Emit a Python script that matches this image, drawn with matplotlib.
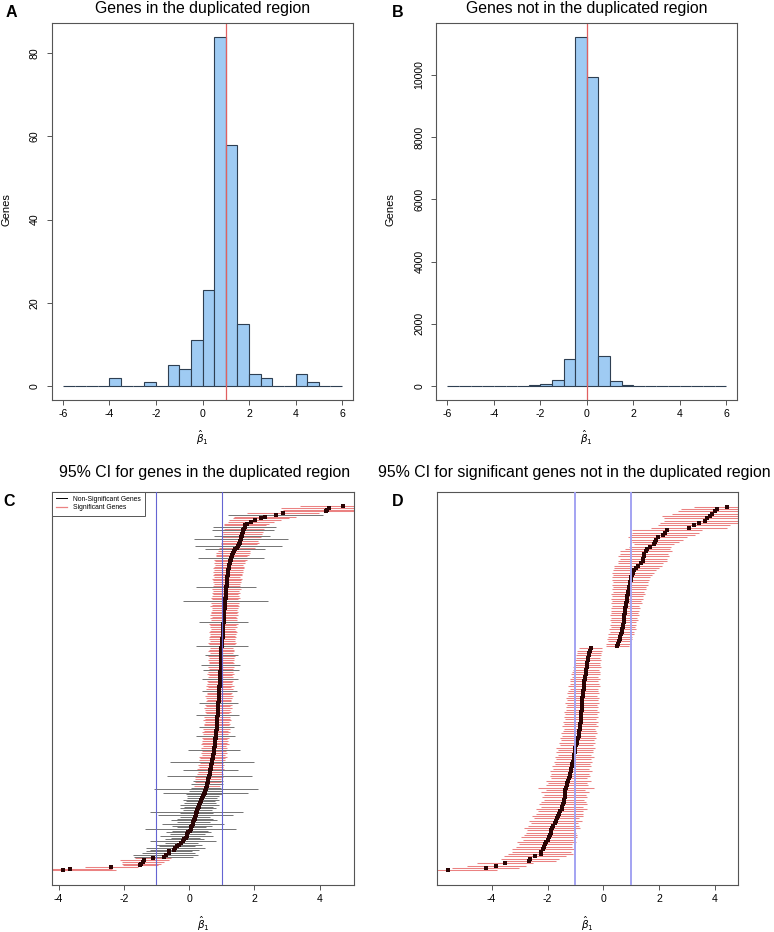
import numpy as np
import matplotlib
matplotlib.use("Agg")
import matplotlib.pyplot as plt
from matplotlib.lines import Line2D

plt.rcParams['font.family'] = ['Liberation Sans', 'DejaVu Sans']
plt.rcParams['axes.unicode_minus'] = False

# ---- histogram data (bins of width 0.5 from -6 to 6) ----
bin_edges = np.arange(-6, 6.01, 0.5)
counts_dup = [0, 0, 0, 0, 2, 0, 0, 1, 0, 5, 4, 11,
              23, 84, 58, 15, 3, 2, 0, 0, 3, 1, 0, 0]
counts_nondup = [1, 1, 2, 3, 4, 6, 10, 20, 55, 180, 865, 11230,
                 9935, 975, 170, 45, 15, 8, 5, 4, 3, 2, 1, 1]

# ---- panel C: genes in the duplicated region (sorted estimates) ----
est_c = [
    -3.85, -3.66, -2.38, -1.49, -1.47, -1.42, -1.37, -1.12, -0.78, -0.72,
    -0.63, -0.61, -0.46, -0.42, -0.36, -0.30, -0.24, -0.19, -0.15, -0.11,
    -0.08, -0.05, -0.02,
    0.02, 0.05, 0.07, 0.09, 0.11, 0.13, 0.15, 0.17, 0.18, 0.20,
    0.22, 0.23, 0.25, 0.27, 0.29, 0.31, 0.33, 0.35, 0.37, 0.40,
    0.43, 0.46, 0.49,
    0.50, 0.51, 0.52, 0.54, 0.55, 0.57, 0.58, 0.59, 0.61, 0.62,
    0.63, 0.64, 0.65, 0.66, 0.67, 0.68, 0.69, 0.70, 0.71, 0.72,
    0.73, 0.74, 0.75, 0.76, 0.77, 0.77, 0.78, 0.79, 0.79, 0.80,
    0.80, 0.81, 0.82, 0.82, 0.83, 0.83, 0.84, 0.84, 0.85, 0.85,
    0.85, 0.86, 0.86, 0.86, 0.87, 0.87, 0.88, 0.88, 0.89, 0.89,
    0.90, 0.90, 0.91, 0.91, 0.91, 0.92, 0.92, 0.92, 0.93, 0.93,
    0.93, 0.94, 0.94, 0.94, 0.95, 0.95, 0.95, 0.96, 0.96, 0.96,
    0.97, 0.97, 0.97, 0.97, 0.98, 0.98, 0.98, 0.98, 0.99, 0.99,
    0.99, 0.99, 0.99, 0.99,
    1.00, 1.01, 1.01, 1.02, 1.02, 1.03, 1.03, 1.03, 1.04, 1.04,
    1.04, 1.05, 1.05, 1.05, 1.06, 1.06, 1.06, 1.07, 1.07, 1.08,
    1.08, 1.08, 1.09, 1.09, 1.10, 1.10, 1.11, 1.11, 1.12, 1.12,
    1.12, 1.13, 1.13, 1.14, 1.14, 1.15, 1.15, 1.16, 1.16, 1.17,
    1.17, 1.18, 1.19, 1.19, 1.20, 1.21, 1.21, 1.22, 1.24, 1.26,
    1.27, 1.28, 1.30, 1.32, 1.34, 1.38, 1.42, 1.46,
    1.51, 1.53, 1.55, 1.57, 1.59, 1.60, 1.62, 1.63, 1.64, 1.66,
    1.68, 1.70, 1.72, 1.76, 1.90,
    2.03, 2.20, 2.34, 2.65, 2.87, 4.18, 4.22, 4.28, 4.71,
]
hw_c = [
    1.60, 1.30, 0.80, 0.55, 0.60, 0.65, 0.75, 0.55, 0.90, 1.00,
    0.80, 0.70, 0.75, 0.90, 0.55, 0.70, 0.50, 1.00, 0.60, 0.45,
    0.80, 0.55, 0.70,
    0.55, 1.40, 0.45, 0.60, 0.95, 0.50, 0.70, 0.55, 0.45, 1.15,
    0.50, 1.43, 0.45, 0.55, 0.45, 0.60, 0.50, 0.45, 0.55, 0.45,
    0.50, 0.55, 1.30,
    0.50, 1.60, 0.45, 0.40, 0.50, 0.40, 0.45, 0.40, 0.42, 1.30,
    0.40, 0.38, 0.85, 0.42, 0.38, 0.40, 0.36, 1.30, 0.40, 0.38,
    0.42, 0.36, 0.40, 0.38, 0.80, 0.40, 0.36, 0.42, 0.38, 0.40,
    0.36, 0.40, 0.60, 0.38, 0.42, 0.36, 0.40, 0.55, 0.38, 0.40,
    0.36, 0.42, 0.38, 0.40, 0.65, 0.36, 0.40, 0.38, 0.42, 0.36,
    0.40, 0.60, 0.38, 0.36, 0.40, 0.42, 0.36, 0.38, 0.55, 0.40,
    0.36, 0.42, 0.38, 0.36, 0.40, 0.55, 0.38, 0.36, 0.40, 0.38,
    0.55, 0.36, 0.40, 0.60, 0.38, 0.36, 0.40, 0.38, 0.42, 0.50,
    0.36, 0.40, 0.38, 0.36,
    0.80, 0.40, 0.42, 0.38, 0.40, 0.42, 0.38, 0.40, 0.42, 0.40,
    0.38, 0.42, 0.40, 0.44, 0.75, 0.40, 0.42, 0.38, 0.44, 0.40,
    0.42, 0.38, 0.40, 0.44, 0.40, 0.42, 1.30, 0.40, 0.44, 0.42,
    0.38, 0.42, 0.40, 0.44, 0.92, 0.42, 0.40, 0.44, 0.42, 0.46,
    0.40, 0.44, 0.42, 0.46, 0.44, 0.48, 0.46, 0.44, 0.48, 0.46,
    0.50, 1.00, 0.48, 0.50, 0.52, 0.50, 0.92, 0.55,
    1.33, 0.55, 0.58, 0.55, 1.43, 0.60, 0.85, 0.60, 0.62, 0.95,
    0.62, 0.97, 0.65, 0.68, 0.70,
    0.80, 0.85, 0.95, 1.45, 1.10, 1.40, 1.35, 1.45, 1.30,
]
sig_c = [
    1, 1, 1, 1, 1, 1, 1, 1, 0, 0, 0, 0, 0, 0, 0, 0, 0, 0, 0, 0, 0, 0, 0,
    0, 0, 0, 0, 0, 0, 0, 0, 0, 0, 0, 0, 0, 0, 0, 0, 0, 0, 0, 0, 0, 0, 0,
    0, 0, 0, 1, 0, 1, 0, 1, 1, 0,
    1, 1, 0, 1, 1, 1, 1, 0, 1, 1,
    1, 1, 1, 1, 0, 1, 1, 1, 1, 1,
    1, 1, 0, 1, 1, 1, 1, 0, 1, 1,
    1, 1, 1, 1, 0, 1, 1, 1, 1, 1,
    1, 0, 1, 1, 1, 1, 1, 1, 0, 1,
    1, 1, 1, 1, 1, 0, 1, 1, 1, 1,
    0, 1, 1, 0, 1, 1, 1, 1, 1, 0,
    1, 1, 1, 1,
    0, 1, 1, 1, 1, 1, 1, 1, 1, 1,
    1, 1, 1, 1, 0, 1, 1, 1, 1, 1,
    1, 1, 1, 1, 1, 1, 0, 1, 1, 1,
    1, 1, 1, 1, 0, 1, 1, 1, 1, 1,
    1, 1, 1, 1, 1, 1, 1, 1, 1, 1,
    1, 0, 1, 1, 1, 1, 0, 1,
    0, 1, 1, 1, 0, 1, 0, 1, 1, 0, 1, 0, 1, 1, 1,
    1, 1, 1, 0, 1, 1, 1, 1, 1,
]

# ---- panel D: significant genes not in the duplicated region ----
est_d = [
    -5.57, -4.21, -3.83, -3.53, -2.65, -2.63, -2.45, -2.25, -2.22, -2.17,
    -2.13, -2.08, -2.04, -1.98, -1.94, -1.91, -1.89, -1.87, -1.85, -1.79,
    -1.75, -1.71, -1.68, -1.64, -1.58, -1.54, -1.50, -1.47, -1.45, -1.42,
    -1.40, -1.39, -1.38, -1.37, -1.36, -1.34, -1.31, -1.29, -1.26, -1.23,
    -1.21, -1.19, -1.17, -1.15, -1.13, -1.11, -1.09, -1.07, -1.05, -1.04,
    -1.03, -1.01, -1.00, -0.97, -0.95, -0.93, -0.91, -0.89, -0.87, -0.86,
    -0.85, -0.84, -0.83, -0.82, -0.82, -0.81, -0.80, -0.79, -0.78, -0.77,
    -0.77, -0.76, -0.75, -0.75, -0.74, -0.73, -0.72, -0.71, -0.70, -0.69,
    -0.68, -0.67, -0.66, -0.64, -0.63, -0.62, -0.60, -0.59, -0.58, -0.57,
    -0.55, -0.53, -0.51, -0.49, -0.46,
    0.50, 0.53, 0.55, 0.58, 0.60, 0.63, 0.65, 0.68, 0.70, 0.71,
    0.72, 0.73, 0.74, 0.75, 0.76, 0.78, 0.79, 0.80, 0.82, 0.83,
    0.85, 0.86, 0.88, 0.89, 0.91, 0.93, 0.94, 0.96, 0.98, 1.00,
    1.03, 1.07, 1.11, 1.18, 1.24, 1.33, 1.40, 1.42, 1.44, 1.47,
    1.52, 1.57, 1.68, 1.82, 1.86, 1.90, 1.94, 2.14, 2.22, 2.28,
    3.06, 3.24, 3.44, 3.62, 3.72, 3.80, 3.89, 4.01, 4.07, 4.43,
]
hw_d = [
    1.76, 1.20, 1.05, 1.00, 0.95, 1.05, 1.10, 1.15, 1.05, 1.10,
    1.00, 0.95, 1.05, 0.90, 1.00, 0.95, 0.90, 0.85, 1.00, 0.90,
    0.85, 0.95, 0.80, 0.90, 0.85, 0.80, 0.90, 0.75, 0.85, 0.80,
    0.72, 0.80, 0.75, 0.85, 0.70, 1.00, 0.75, 0.70, 0.80, 0.65,
    0.72, 0.68, 0.75, 0.65, 0.70, 0.62, 0.68, 0.63, 0.70, 0.60,
    0.66, 0.62, 0.70, 0.58, 0.65, 0.60, 0.66, 0.58, 0.64, 0.60,
    0.56, 0.63, 0.58, 0.62, 0.55, 0.60, 0.57, 0.62, 0.55, 0.58,
    0.54, 0.60, 0.55, 0.58, 0.52, 0.57, 0.54, 0.50, 0.56, 0.52,
    0.50, 0.54, 0.48, 0.52, 0.50, 0.47, 0.50, 0.46, 0.45, 0.48,
    0.44, 0.46, 0.43, 0.45, 0.42,
    0.42, 0.44, 0.40, 0.45, 0.42, 0.46, 0.43, 0.48, 0.44, 0.47,
    0.45, 0.50, 0.46, 0.52, 0.48, 0.50, 0.53, 0.49, 0.55, 0.52,
    0.58, 0.54, 0.60, 0.56, 0.62, 0.60, 0.64, 0.62, 0.66, 0.68,
    0.70, 0.75, 0.78, 0.80, 0.85, 0.82, 0.88, 0.84, 0.90, 0.86,
    0.92, 0.80, 0.75, 0.72, 0.85, 0.95, 1.05, 1.15, 1.20, 1.25,
    1.35, 1.30, 1.40, 1.45, 1.55, 1.70, 1.45, 1.35, 1.30, 1.20,
]

assert len(est_c) == len(hw_c) == len(sig_c)
assert len(est_d) == len(hw_d)

W, H = 774, 932
GRAY = '#555555'
HIST_FILL = '#9fcbf3'
HIST_EDGE = '#2e3f52'
RED_CI = '#eb8282'
POINT = '#2a0404'

fig = plt.figure(figsize=(W / 100, H / 100), dpi=100)


def px_axes(left, top, right, bottom):
    return fig.add_axes([left / W, 1 - bottom / H, (right - left) / W, (bottom - top) / H])


def r_style(ax):
    for s in ax.spines.values():
        s.set_color(GRAY)
        s.set_linewidth(0.8)
    ax.tick_params(direction='out', length=3.5, width=0.7, color=GRAY,
                   labelsize=7.6, pad=3)


def draw_hist(ax, counts, ref, yticks):
    r_style(ax)
    ax.bar(bin_edges[:-1], counts, width=0.5, align='edge',
           color=HIST_FILL, edgecolor=HIST_EDGE, linewidth=0.8)
    ax.axvline(ref, color='#e06060', lw=0.9)
    top = max(counts)
    ax.set_ylim(-0.04 * top, 1.04 * top)
    ax.set_xlim(-6.48, 6.48)
    ax.set_xticks([-6, -4, -2, 0, 2, 4, 6])
    ax.set_yticks(yticks)
    ax.tick_params(axis='y', labelrotation=90, pad=5)
    plt.setp(ax.get_yticklabels(), va='center')


def draw_ci(ax, est, hw, sig, ms):
    r_style(ax)
    est = np.array(est)
    hw = np.array(hw)
    sig = np.array(sig, dtype=bool)
    n = len(est)
    y = np.arange(1, n + 1)
    ax.hlines(y[sig], est[sig] - hw[sig], est[sig] + hw[sig],
              color=RED_CI, lw=0.75, zorder=2)
    ax.hlines(y[~sig], est[~sig] - hw[~sig], est[~sig] + hw[~sig],
              color='black', lw=0.7, alpha=0.55, zorder=3)
    ax.plot(est, y, 's', ms=ms, color=POINT, mew=0, zorder=4)
    span = est.max() - est.min()
    ax.set_xlim(est.min() - 0.04 * span, est.max() + 0.04 * span)
    ax.set_ylim(1 - 0.04 * (n - 1), n + 0.04 * (n - 1))
    ax.set_yticks([])
    ax.set_xticks([-4, -2, 0, 2, 4])


# A
ax_a = px_axes(51.7, 22.7, 353.3, 400)
draw_hist(ax_a, counts_dup, 1, [0, 20, 40, 60, 80])
# B
ax_b = px_axes(436.3, 22.7, 737.3, 400)
draw_hist(ax_b, counts_nondup, 0, [0, 2000, 4000, 6000, 8000, 10000])

# C
ax_c = px_axes(52.3, 491.7, 354, 885)
draw_ci(ax_c, est_c, hw_c, sig_c, 2.8)
ax_c.axvline(-1, color='#6464d2', lw=0.8, zorder=5)
ax_c.axvline(1, color='#6464d2', lw=0.8, zorder=5)
handles = [Line2D([], [], color='black', lw=0.7),
           Line2D([], [], color=RED_CI, lw=0.9)]
leg = ax_c.legend(handles, ['Non-Significant Genes', 'Significant Genes'],
                  loc='upper left', fontsize=4.9, frameon=True, fancybox=False,
                  borderaxespad=0, handlelength=1.6, handletextpad=0.8,
                  labelspacing=0.25, borderpad=0.6, edgecolor=GRAY, framealpha=1)
leg.get_frame().set_linewidth(0.7)

# D
ax_d = px_axes(436.7, 492, 738.3, 885)
draw_ci(ax_d, est_d, hw_d, [1] * len(est_d), 2.5)
ax_d.axvline(-1, color='#a3a3f2', lw=1.4, zorder=5)
ax_d.axvline(1, color='#a3a3f2', lw=1.4, zorder=5)

# titles, axis labels and panel letters
title_fs = 11.4
fig.text(202.5 / W, 1 - 8 / H, 'Genes in the duplicated region', ha='center', va='center', fontsize=title_fs)
fig.text(586.8 / W, 1 - 8 / H, 'Genes not in the duplicated region', ha='center', va='center', fontsize=title_fs)
fig.text(205 / W, 1 - 473 / H, '95% CI for genes in the duplicated region', ha='center', va='center', fontsize=title_fs)
fig.text(574 / W, 1 - 473 / H, '95% CI for significant genes not in the duplicated region', ha='center', va='center', fontsize=title_fs)

for cx, cy in [(202.5, 438), (586.8, 438), (203, 924), (587.5, 924)]:
    fig.text(cx / W, 1 - cy / H, r'$\hat{\beta}_1$', ha='center', va='center', fontsize=7.5)
for cx in [6, 390]:
    fig.text(cx / W, 1 - 210 / H, 'Genes', ha='center', va='center', rotation=90, fontsize=8)

for letter, cx, cy in [('A', 11, 12.5), ('B', 398, 12.5), ('C', 9.5, 501.7), ('D', 398, 501.7)]:
    fig.text(cx / W, 1 - cy / H, letter, ha='center', va='center', fontsize=11.5, fontweight='bold')

fig.savefig('out.png', dpi=100)
